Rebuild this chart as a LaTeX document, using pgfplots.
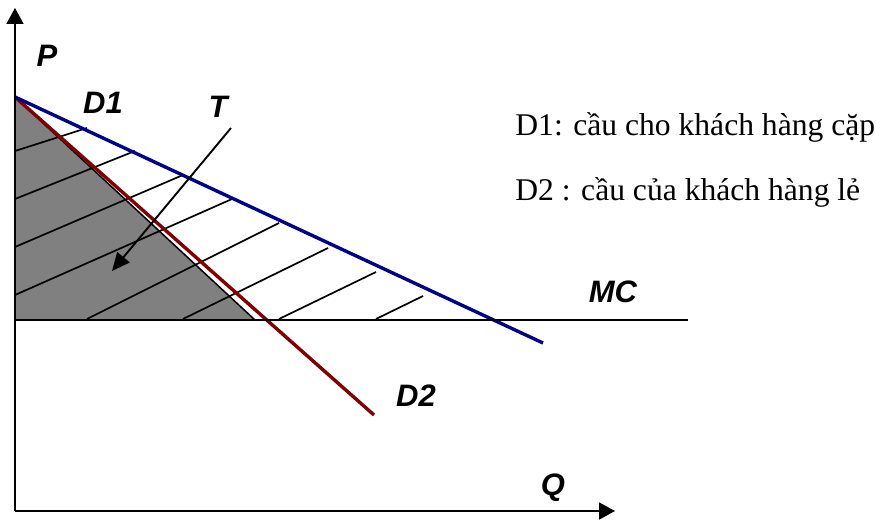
\documentclass[border=0pt]{standalone}
\usepackage{pgfplots}
\pgfplotsset{compat=1.18}
\usepackage{fontspec}
\setmainfont{Liberation Serif}
\newfontfamily\arial{Liberation Sans}
\usetikzlibrary{arrows.meta}

\definecolor{dnavy}{RGB}{0,0,140}
\definecolor{dred}{RGB}{130,0,0}
\definecolor{shade}{RGB}{128,128,128}

\newcommand{\lbl}{\arial\bfseries\itshape\fontsize{15.5}{15.5}\selectfont}

\begin{document}
\begin{tikzpicture}
\begin{axis}[
    scale only axis,
    width=438pt, height=260pt,
    xmin=-15, xmax=861,
    ymin=-9, ymax=511,
    hide axis,
    clip=false,
]
% keep the page at the full frame
\path (axis cs:-15,-9) rectangle (axis cs:861,511);

% shaded area under D2 and above MC
\addplot[fill=shade, draw=none] coordinates {(0,414) (0,191) (240,191)} -- cycle;

% hatching between D1 and MC
\addplot[black, line width=0.85pt] coordinates {(0,360) (72,383)};
\addplot[black, line width=0.85pt] coordinates {(0,312) (120,360)};
\addplot[black, line width=0.85pt] coordinates {(0,264) (168,336)};
\addplot[black, line width=0.85pt] coordinates {(0,216) (217,312)};
\addplot[black, line width=0.85pt] coordinates {(72,192) (264,288)};
\addplot[black, line width=0.85pt] coordinates {(168,192) (313,263)};
\addplot[black, line width=0.85pt] coordinates {(264,192) (361,239)};
\addplot[black, line width=0.85pt] coordinates {(361,192) (408,215)};

% edge of shaded area
\addplot[black, line width=0.75pt] coordinates {(0,414) (240,191)};

% demand curves
\addplot[dred, line width=1.7pt] coordinates {(0,414) (359,96)};
\addplot[dnavy, line width=1.7pt] coordinates {(0,414) (528,168)};

% MC
\addplot[black, line width=1.05pt] coordinates {(0,191) (673,191)};

% axes
\addplot[black, line width=0.85pt, -{Triangle[length=8pt,width=8.5pt]}] coordinates {(0,0) (0,503)};
\addplot[black, line width=0.85pt, -{Triangle[length=8pt,width=8.5pt]}] coordinates {(0,0) (600,0)};

% arrow T
\addplot[black, line width=0.95pt, -{Triangle[length=9pt,width=8pt]}] coordinates {(216,383) (97,240)};

% labels
\node[font=\lbl] at (axis cs:32,455) {P};
\node[font=\lbl] at (axis cs:88,408) {D1};
\node[font=\lbl] at (axis cs:203,404) {T};
\node[font=\lbl] at (axis cs:598,219) {MC};
\node[font=\lbl] at (axis cs:401,115) {D2};
\node[font=\lbl] at (axis cs:538,23) {Q};

\node[anchor=base west, inner sep=0pt, font=\fontsize{15.8}{16}\selectfont] at (axis cs:500,375) {D1: cầu cho khách hàng cặp};
\node[anchor=base west, inner sep=0pt, font=\fontsize{15.8}{16}\selectfont] at (axis cs:500,311) {D2 : cầu của khách hàng lẻ};
\end{axis}
\end{tikzpicture}
\end{document}
